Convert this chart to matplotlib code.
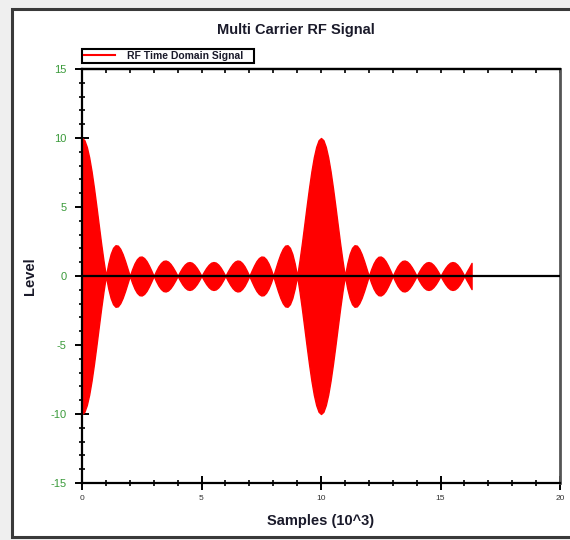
import numpy as np
import matplotlib.pyplot as plt
from matplotlib.patches import Rectangle
from matplotlib.ticker import MultipleLocator

# envelope of the RF signal, every 0.1 (x10^3 samples)
envelope = [
    10, 9.84, 9.36, 8.60, 7.59, 6.39, 5.08, 3.71, 2.36, 1.11, 0,
    0.91, 1.60, 2.04, 2.23, 2.20, 1.97, 1.59, 1.10, 0.55, 0,
    0.50, 0.92, 1.22, 1.39, 1.41, 1.30, 1.08, 0.76, 0.39, 0,
    0.37, 0.70, 0.94, 1.09, 1.12, 1.05, 0.88, 0.63, 0.33, 0,
    0.32, 0.61, 0.83, 0.97, 1.01, 0.96, 0.81, 0.59, 0.31, 0,
    0.31, 0.59, 0.81, 0.96, 1.01, 0.97, 0.83, 0.61, 0.32, 0,
    0.33, 0.63, 0.88, 1.05, 1.12, 1.09, 0.94, 0.70, 0.37, 0,
    0.39, 0.76, 1.08, 1.30, 1.41, 1.39, 1.22, 0.92, 0.50, 0,
    0.55, 1.10, 1.59, 1.97, 2.20, 2.23, 2.04, 1.60, 0.91, 0,
    1.11, 2.36, 3.71, 5.08, 6.39, 7.59, 8.60, 9.36, 9.84, 10,
    9.84, 9.36, 8.60, 7.59, 6.39, 5.08, 3.71, 2.36, 1.11, 0,
    0.91, 1.60, 2.04, 2.23, 2.20, 1.97, 1.59, 1.10, 0.55, 0,
    0.50, 0.92, 1.22, 1.39, 1.41, 1.30, 1.08, 0.76, 0.39, 0,
    0.37, 0.70, 0.94, 1.09, 1.12, 1.05, 0.88, 0.63, 0.33, 0,
    0.32, 0.61, 0.83, 0.97, 1.01, 0.96, 0.81, 0.59, 0.31, 0,
    0.31, 0.59, 0.81, 0.96, 1.01, 0.97, 0.83, 0.61, 0.32, 0,
    0.33, 0.63, 0.95,
]
samples = np.round(np.arange(len(envelope)) * 0.1, 1)
env = np.array(envelope)

xticks = [0, 5, 10, 15, 20]
yticks = [-15, -10, -5, 0, 5, 10, 15]

plt.rcParams['font.family'] = ['Liberation Sans', 'DejaVu Sans']
plt.rcParams['axes.unicode_minus'] = False

W, H = 570, 540
fig = plt.figure(figsize=(W / 100, H / 100), dpi=100, facecolor='#efefef')
# white chart panel with dark frame
fig.patches.append(Rectangle((12 / W, 3 / H), 1.0, 1 - 12 / H, transform=fig.transFigure,
                             facecolor='white', edgecolor='#3a3a3a', linewidth=2.2, zorder=-10))

ax = fig.add_axes([82 / W, 1 - 483 / H, (560 - 82) / W, (483 - 69) / H])
ax.set_zorder(2)
ax.set_facecolor('white')

ax.fill_between(samples, -env, env, color='#ff0000', linewidth=1.0, edgecolor='#ff0000', zorder=2)
ax.axhline(0, color='black', linewidth=1.6, zorder=3)

ax.set_xlim(0, 20)
ax.set_ylim(-15, 15)
ax.set_xticks(xticks)
ax.set_yticks(yticks)
ax.xaxis.set_minor_locator(MultipleLocator(1))
ax.yaxis.set_minor_locator(MultipleLocator(1))
ax.tick_params(which='major', direction='inout', length=10, width=1.4, color='black')
ax.tick_params(which='minor', direction='inout', length=5, width=1.2, color='black')
ax.tick_params(axis='y', which='major', labelsize=8, labelcolor='#3a9a3a', pad=6)
ax.tick_params(axis='x', which='major', labelsize=6, labelcolor='#333333', pad=4)

top = ax.secondary_xaxis('top')
top.set_xticks(xticks)
top.xaxis.set_minor_locator(MultipleLocator(1))
top.tick_params(which='both', direction='in', length=3, width=1.2, labeltop=False)

for s in ['left', 'bottom', 'top']:
    ax.spines[s].set_linewidth(1.6)
    ax.spines[s].set_color('black')
top.spines['top'].set_linewidth(1.6)
ax.spines['right'].set_linewidth(2.0)
ax.spines['right'].set_color('#555555')

fig.text(296 / W, 1 - 30 / H, 'Multi Carrier RF Signal', ha='center', va='center',
         fontsize=10.5, fontweight='bold', color='#1a1a2a')
fig.text(321 / W, 1 - 521 / H, 'Samples (10^3)', ha='center', va='center',
         fontsize=10.5, fontweight='bold', color='#1a1a2a')
fig.text(30 / W, 1 - 276 / H, 'Level', ha='center', va='center', rotation=90,
         fontsize=10.5, fontweight='bold', color='#1a1a2a')

leg = fig.legend([plt.Line2D([], [], color='#ff0000', linewidth=1.5)], ['RF Time Domain Signal   '],
                 loc='lower left', bbox_to_anchor=(82 / W, 1 - 63 / H), borderaxespad=0,
                 fontsize=7.5, frameon=True, fancybox=False, handlelength=3.0,
                 borderpad=0.2, handletextpad=1.1)
leg.get_frame().set_edgecolor('black')
leg.get_frame().set_linewidth(1.5)
leg.get_frame().set_facecolor('white')
leg.get_frame().set_alpha(1)
for t in leg.get_texts():
    t.set_fontweight('bold')
    t.set_color('#1a1a2a')

fig.savefig('out.png', dpi=100, facecolor=fig.get_facecolor())
